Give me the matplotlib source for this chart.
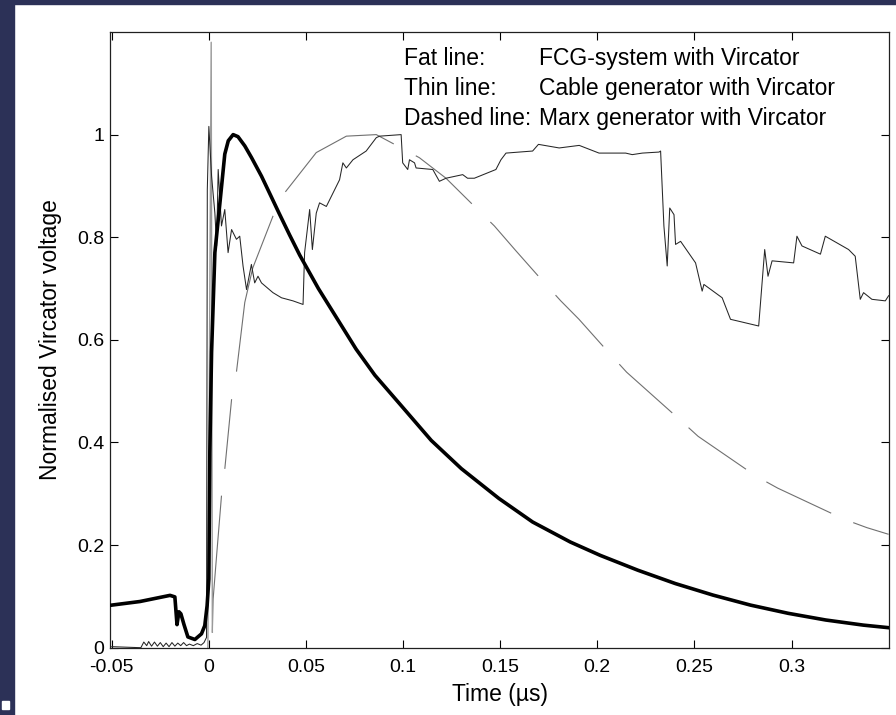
import matplotlib
matplotlib.use("Agg")
import matplotlib.pyplot as plt
from matplotlib.patches import Rectangle

plt.rcParams.update({
    "font.family": "sans-serif",
    "font.sans-serif": ["Liberation Sans", "DejaVu Sans"],
    "axes.unicode_minus": False,
})

# FCG-system (fat line), time in us
fcg_t = [-0.05, -0.0355, -0.0200, -0.0175, -0.0164, -0.0154, -0.0144, -0.0128,
         -0.0108, -0.0072, -0.0038, -0.0021, -0.0009, 0.0, 0.0005, 0.0014,
         0.0031, 0.0057, 0.0082, 0.0100, 0.0125, 0.0150, 0.0185, 0.0220,
         0.0271, 0.0320, 0.0360, 0.0415, 0.0468, 0.0564, 0.0661, 0.0758,
         0.0855, 0.0990, 0.1145, 0.1300, 0.1493, 0.1667, 0.1861, 0.2015,
         0.2209, 0.2402, 0.2596, 0.2789, 0.2983, 0.3176, 0.3370, 0.3500]
fcg_v = [0.083, 0.090, 0.102, 0.099, 0.045, 0.070, 0.066, 0.045,
         0.021, 0.016, 0.027, 0.043, 0.082, 0.134, 0.381, 0.576,
         0.770, 0.867, 0.962, 0.988, 1.000, 0.996, 0.978, 0.955,
         0.919, 0.880, 0.848, 0.805, 0.765, 0.700, 0.641, 0.582,
         0.531, 0.472, 0.404, 0.349, 0.291, 0.245, 0.206, 0.180,
         0.151, 0.125, 0.1025, 0.083, 0.067, 0.054, 0.044, 0.039]

# Cable generator (thin line)
cable_t = [-0.05, -0.035, -0.0335, -0.032, -0.031, -0.0295, -0.028, -0.0265,
           -0.025, -0.0235, -0.022, -0.0205, -0.019, -0.0175, -0.016, -0.0145,
           -0.013, -0.0115, -0.010, -0.008, -0.006, -0.004, -0.0025, -0.0012,
           -0.0008, 0.0, 0.0014, 0.0031, 0.0040, 0.0048, 0.0065, 0.0082,
           0.0099, 0.0117, 0.0142, 0.0159, 0.0176, 0.0194, 0.0219, 0.0236,
           0.0253, 0.0271, 0.0330, 0.0374, 0.0433, 0.0485, 0.0493, 0.0519,
           0.0533, 0.0553, 0.0570, 0.0605, 0.0639, 0.0673, 0.0690, 0.0708,
           0.0742, 0.0810, 0.0862, 0.0879, 0.0990, 0.0998, 0.1024, 0.1033,
           0.1059, 0.1067, 0.1153, 0.1187, 0.1221, 0.1307, 0.1332, 0.1367,
           0.1478, 0.1504, 0.1530, 0.1598, 0.1667, 0.1697, 0.1804, 0.1907,
           0.2009, 0.2146, 0.2180, 0.2232, 0.2318, 0.2326, 0.2343, 0.2360,
           0.2373, 0.2395, 0.2403, 0.2429, 0.2506, 0.2540, 0.2549, 0.2643,
           0.2686, 0.2720, 0.2831, 0.2862, 0.2879, 0.2900, 0.3011, 0.3028,
           0.3054, 0.3149, 0.3174, 0.3294, 0.3328, 0.3354, 0.3371, 0.3414,
           0.3483, 0.3500]
cable_v = [0.002, 0.0, 0.011, 0.004, 0.012, 0.003, 0.011, 0.003,
           0.010, 0.002, 0.009, 0.002, 0.010, 0.003, 0.009, 0.004,
           0.010, 0.004, 0.007, 0.004, 0.008, 0.005, 0.010, 0.020,
           0.893, 1.016, 0.919, 0.847, 0.783, 0.932, 0.822, 0.854,
           0.770, 0.815, 0.796, 0.802, 0.744, 0.698, 0.747, 0.711,
           0.724, 0.711, 0.692, 0.682, 0.676, 0.669, 0.770, 0.854,
           0.776, 0.847, 0.867, 0.860, 0.886, 0.912, 0.945, 0.935,
           0.951, 0.968, 0.994, 0.997, 1.000, 0.945, 0.932, 0.951,
           0.945, 0.935, 0.932, 0.909, 0.915, 0.922, 0.915, 0.915,
           0.932, 0.951, 0.964, 0.966, 0.968, 0.981, 0.974, 0.979,
           0.964, 0.964, 0.961, 0.964, 0.966, 0.968, 0.822, 0.744,
           0.857, 0.844, 0.786, 0.792, 0.750, 0.695, 0.708, 0.682,
           0.640, 0.637, 0.627, 0.776, 0.724, 0.754, 0.750, 0.802,
           0.783, 0.767, 0.802, 0.776, 0.763, 0.679, 0.692, 0.679,
           0.676, 0.686]

# Marx generator (dashed line) and its switching spike
marx_t = [0.0018, 0.0022, 0.0040, 0.0065, 0.0082, 0.0117, 0.0142, 0.0185,
          0.0226, 0.0330, 0.0391, 0.0553, 0.0708, 0.0862, 0.0971, 0.1084,
          0.1221, 0.1376, 0.1470, 0.1580, 0.1725, 0.1812, 0.1906, 0.2064,
          0.2151, 0.2432, 0.2519, 0.2819, 0.2929, 0.3273, 0.3388, 0.3500]
marx_v = [0.030, 0.095, 0.180, 0.296, 0.348, 0.484, 0.537, 0.673,
          0.740, 0.841, 0.887, 0.965, 0.997, 1.000, 0.978, 0.955,
          0.915, 0.857, 0.822, 0.774, 0.712, 0.676, 0.640, 0.573,
          0.537, 0.442, 0.412, 0.334, 0.311, 0.250, 0.234, 0.221]
spike_t = [-0.0005, 0.0012, 0.0018]
spike_v = [0.0, 1.18, 0.03]

x_ticks = [-0.05, 0, 0.05, 0.1, 0.15, 0.2, 0.25, 0.3]
x_ticklabels = ["-0.05", "0", "0.05", "0.1", "0.15", "0.2", "0.25", "0.3"]
y_ticks = [0, 0.2, 0.4, 0.6, 0.8, 1.0]
y_ticklabels = ["0", "0.2", "0.4", "0.6", "0.8", "1"]

key_names = ["Fat line:", "Thin line:", "Dashed line:"]
key_texts = ["FCG-system with Vircator", "Cable generator with Vircator",
             "Marx generator with Vircator"]

# on/off lengths of the Marx dashes, in screen pixels along the curve
DASH_PX = [137, 27, 70, 28, 161, 27, 134, 25, 74, 26, 72, 26, 70, 24,
           72, 22, 71, 24, 72, 24, 300, 10]
NAVY = "#2c3157"

fig = plt.figure(figsize=(8.96, 7.15), dpi=100)
fig.patches.append(Rectangle((0, 0), 14 / 896, 1, transform=fig.transFigure,
                             color=NAVY, zorder=0))
fig.patches.append(Rectangle((0, 1 - 4 / 715), 1, 4 / 715, transform=fig.transFigure,
                             color=NAVY, zorder=0))
fig.patches.append(Rectangle((2 / 896, 6 / 715), 7 / 896, 8 / 715,
                             transform=fig.transFigure, color="white", zorder=1))

ax = fig.add_axes([110 / 896, 1 - 647.7 / 715, 779 / 896, 615.7 / 715])

lw_d = 0.8
dash = tuple(p * 0.72 / lw_d for p in DASH_PX)
ax.plot(marx_t, marx_v, color="#707070", lw=lw_d, linestyle=(0, dash), zorder=2)
ax.plot(spike_t, spike_v, color="#9a9a9a", lw=1.0, zorder=2)
ax.plot(cable_t, cable_v, color="#262626", lw=0.75, zorder=3)
ax.plot(fcg_t, fcg_v, color="black", lw=2.6, zorder=4, solid_joinstyle="round")

ax.set_xlim(-0.0509, 0.3502)
ax.set_ylim(0, 1.2)
ax.set_xticks(x_ticks)
ax.set_xticklabels(x_ticklabels)
ax.set_yticks(y_ticks)
ax.set_yticklabels(y_ticklabels)
ax.tick_params(direction="in", length=6, width=0.8, top=True, right=True,
               labelsize=14)
ax.tick_params(axis="x", pad=8)
ax.tick_params(axis="y", pad=4)
for sp in ax.spines.values():
    sp.set_linewidth(0.9)
    sp.set_color("#202020")

ax.set_xlabel("Time (\u00b5s)", fontsize=16.5, labelpad=5)
ax.set_ylabel("Normalised Vircator voltage", fontsize=16.5, labelpad=11)

for i, (name, txt) in enumerate(zip(key_names, key_texts)):
    yb = 0.9464 - i * 0.0487
    ax.text(0.3774, yb, name, transform=ax.transAxes, fontsize=16.5,
            va="baseline", ha="left")
    ax.text(0.5507, yb, txt, transform=ax.transAxes, fontsize=16.5,
            va="baseline", ha="left")

fig.savefig("out.png", dpi=100)
